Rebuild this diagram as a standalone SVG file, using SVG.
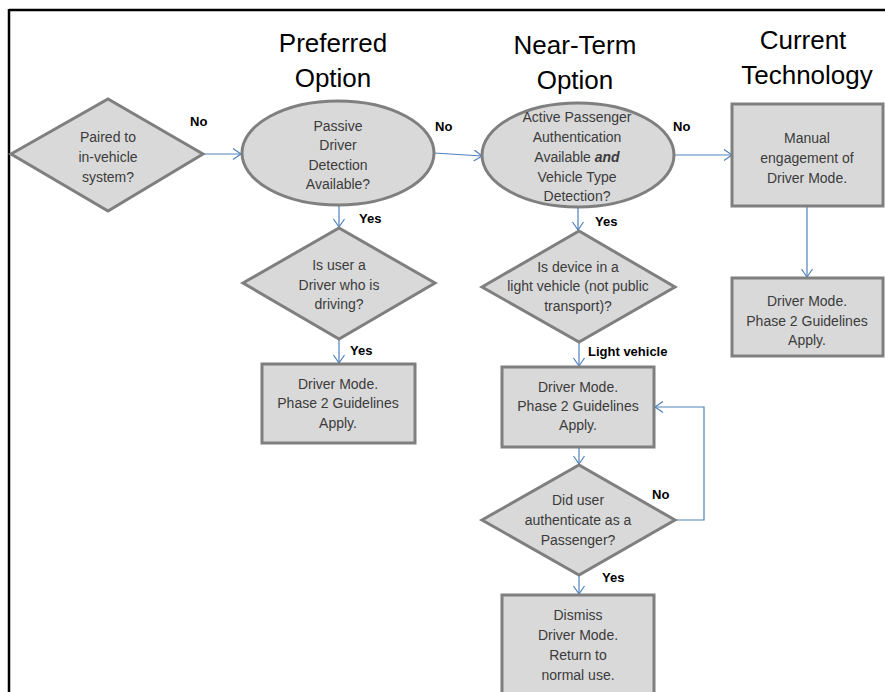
<svg xmlns="http://www.w3.org/2000/svg" width="885" height="692" viewBox="0 0 885 692">
  <style>
    .shape { fill: #d9d9d9; stroke: #7f7f7f; stroke-width: 3; }
    .txt { font-family: "Liberation Sans", Arial, sans-serif; font-size: 14px; fill: #3b3b3b; text-anchor: middle; dominant-baseline: central; }
    .title { font-family: "Liberation Sans", Arial, sans-serif; font-size: 26px; fill: #000; text-anchor: middle; }
    .lbl { font-family: "Liberation Sans", Arial, sans-serif; font-size: 13px; font-weight: bold; fill: #000; dominant-baseline: central; }
    .conn { fill: none; stroke: #4f81bd; stroke-width: 1.2; marker-end: url(#arrow); }
  </style>
  <defs>
    <marker id="arrow" markerUnits="userSpaceOnUse" markerWidth="12" markerHeight="14" refX="9" refY="6" orient="auto">
      <path d="M1,0.5 L9,6 L1,11.5" fill="none" stroke="#4f81bd" stroke-width="1.2"/>
    </marker>
  </defs>

  <rect width="885" height="692" fill="#fff"/>

  <!-- outer frame: top and left edges -->
  <g id="frame" stroke="#000" stroke-width="2.5">
    <line x1="9" y1="10" x2="885" y2="10"/>
    <line x1="9" y1="9" x2="9" y2="692"/>
  </g>

  <!-- column headings -->
  <g id="headings">
    <text class="title" x="333" y="52">Preferred</text>
    <text class="title" x="333" y="87">Option</text>
    <text class="title" x="575" y="54">Near-Term</text>
    <text class="title" x="575" y="89">Option</text>
    <text class="title" x="803" y="49">Current</text>
    <text class="title" x="807" y="84">Technology</text>
  </g>

  <!-- connectors -->
  <g id="connectors">
    <line class="conn" x1="203" y1="154" x2="241" y2="154"/>
    <line class="conn" x1="434" y1="153" x2="482" y2="156"/>
    <line class="conn" x1="674" y1="155" x2="732" y2="155"/>
    <line class="conn" x1="807" y1="206" x2="807" y2="277"/>
    <line class="conn" x1="339" y1="205" x2="339" y2="227"/>
    <line class="conn" x1="339" y1="339" x2="339" y2="363"/>
    <line class="conn" x1="578" y1="207" x2="578" y2="230"/>
    <line class="conn" x1="579" y1="343" x2="579" y2="366"/>
    <line class="conn" x1="579" y1="447" x2="579" y2="464"/>
    <polyline class="conn" points="675,520 704,520 704,407 655,407"/>
    <line class="conn" x1="579" y1="575" x2="579" y2="594"/>
    <text class="lbl" x="190" y="121">No</text>
    <text class="lbl" x="435" y="126">No</text>
    <text class="lbl" x="673" y="126">No</text>
    <text class="lbl" x="359" y="218">Yes</text>
    <text class="lbl" x="350" y="350">Yes</text>
    <text class="lbl" x="595" y="221">Yes</text>
    <text class="lbl" x="588" y="351">Light vehicle</text>
    <text class="lbl" x="652" y="494">No</text>
    <text class="lbl" x="602" y="577">Yes</text>
  </g>

  <!-- Paired to in-vehicle system? -->
  <g id="paired">
    <polygon class="shape" points="11,154 108,99 203,154 108,211"/>
    <text class="txt" x="108" y="137">Paired to</text>
    <text class="txt" x="108" y="157">in-vehicle</text>
    <text class="txt" x="108" y="177">system?</text>
  </g>

  <!-- Passive Driver Detection Available? -->
  <g id="passive">
    <ellipse class="shape" cx="338" cy="153" rx="96" ry="52"/>
    <text class="txt" x="338" y="126">Passive</text>
    <text class="txt" x="338" y="145">Driver</text>
    <text class="txt" x="338" y="165">Detection</text>
    <text class="txt" x="338" y="184">Available?</text>
  </g>

  <!-- Active Passenger Authentication ... -->
  <g id="active">
    <ellipse class="shape" cx="578" cy="155" rx="96" ry="52"/>
    <text class="txt" x="577" y="117">Active Passenger</text>
    <text class="txt" x="577" y="137">Authentication</text>
    <text class="txt" x="577" y="157">Available <tspan font-weight="bold" font-style="italic">and</tspan></text>
    <text class="txt" x="577" y="177">Vehicle Type</text>
    <text class="txt" x="577" y="196">Detection?</text>
  </g>

  <!-- Manual engagement -->
  <g id="manual">
    <rect class="shape" x="732" y="104" width="151" height="102"/>
    <text class="txt" x="807" y="138">Manual</text>
    <text class="txt" x="807" y="158">engagement  of</text>
    <text class="txt" x="807" y="178">Driver Mode.</text>
  </g>

  <!-- Driver Mode (current technology) -->
  <g id="driver-mode-current">
    <rect class="shape" x="732" y="278" width="151" height="78"/>
    <text class="txt" x="807" y="301">Driver Mode.</text>
    <text class="txt" x="807" y="321">Phase 2 Guidelines</text>
    <text class="txt" x="807" y="340">Apply.</text>
  </g>

  <!-- Is user a Driver who is driving? -->
  <g id="is-driver">
    <polygon class="shape" points="243,283 339,228 435,283 339,339"/>
    <text class="txt" x="339" y="265">Is user a</text>
    <text class="txt" x="339" y="285">Driver who  is</text>
    <text class="txt" x="339" y="304">driving?</text>
  </g>

  <!-- Driver Mode (preferred) -->
  <g id="driver-mode-preferred">
    <rect class="shape" x="262" y="364" width="153" height="79"/>
    <text class="txt" x="338" y="384">Driver Mode.</text>
    <text class="txt" x="338" y="403">Phase 2 Guidelines</text>
    <text class="txt" x="338" y="423">Apply.</text>
  </g>

  <!-- Is device in a light vehicle? -->
  <g id="light-vehicle">
    <polygon class="shape" points="482,287 579,231 675,287 579,342"/>
    <text class="txt" x="578" y="267">Is device in a</text>
    <text class="txt" x="578" y="286">light vehicle (not public</text>
    <text class="txt" x="578" y="306">transport)?</text>
  </g>

  <!-- Driver Mode (near-term) -->
  <g id="driver-mode-near">
    <rect class="shape" x="502" y="367" width="152" height="80"/>
    <text class="txt" x="578" y="387">Driver Mode.</text>
    <text class="txt" x="578" y="406">Phase 2 Guidelines</text>
    <text class="txt" x="578" y="425">Apply.</text>
  </g>

  <!-- Did user authenticate as a Passenger? -->
  <g id="authenticate">
    <polygon class="shape" points="482,520 579,465 675,520 579,575"/>
    <text class="txt" x="578" y="500">Did user</text>
    <text class="txt" x="578" y="520">authenticate as a</text>
    <text class="txt" x="578" y="540">Passenger?</text>
  </g>

  <!-- Dismiss Driver Mode -->
  <g id="dismiss">
    <rect class="shape" x="502" y="595" width="152" height="105"/>
    <text class="txt" x="578" y="615">Dismiss</text>
    <text class="txt" x="578" y="635">Driver Mode.</text>
    <text class="txt" x="578" y="655">Return  to</text>
    <text class="txt" x="578" y="675">normal use.</text>
  </g>
</svg>
